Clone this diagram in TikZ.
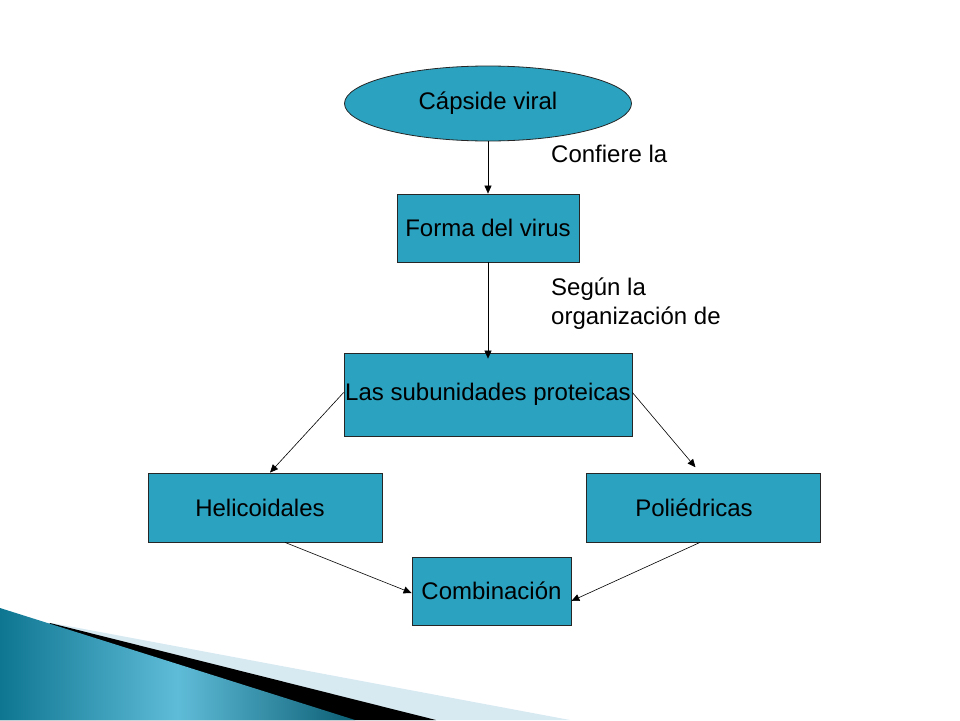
\documentclass[tikz,border=0pt]{standalone}
\usepackage{fontspec}
\setmainfont{Liberation Sans}
\usetikzlibrary{shapes.geometric,arrows.meta}
\definecolor{azzurro}{RGB}{43,162,192}
\definecolor{tealscuro}{RGB}{14,118,145}
\definecolor{tealchiaro}{RGB}{95,188,216}
\definecolor{celeste}{RGB}{215,233,241}
\tikzset{
  casella/.style={draw=black!85, fill=azzurro, line width=0.8pt, inner sep=0pt},
  freccia/.style={->, line width=0.6pt},
  testo/.style={font=\fontsize{24}{29}\selectfont}
}
\begin{document}
\begin{tikzpicture}[x=1pt, y=-1pt, >={Triangle[length=8pt,width=7pt]}]
  \useasboundingbox (0,0) rectangle (960,720);

  % decorazione in basso
  \fill[celeste] (52,623) -- (570,720) -- (0,720) -- cycle;
  \fill[black] (50,623) -- (436,720) -- (0,720) -- cycle;
  \shade[left color=tealscuro, right color=tealscuro!80!black, middle color=tealchiaro]
    (0,608) -- (355,720) -- (0,720) -- cycle;

  % nodi
  \node[casella, ellipse, minimum width=287pt, minimum height=75pt, testo] (capside) at (488,103.5) {Cápside viral};
  \node[casella, minimum width=182pt, minimum height=68pt, testo] (forma) at (488,228) {Forma del virus};
  \node[casella, minimum width=288pt, minimum height=83pt, testo] (subunidades) at (488,394.5) {Las subunidades proteicas};
  \node[casella, minimum width=234pt, minimum height=69pt, testo] (helicoidales) at (265,507.5) {Helicoidales\kern10pt};
  \node[casella, minimum width=234pt, minimum height=69pt, testo] (poliedricas) at (703,507.5) {Poliédricas\kern18pt};
  \node[casella, minimum width=159pt, minimum height=68pt, testo] (combinacion) at (491.5,591) {Combinación};

  % etichette
  \node[testo, anchor=west, inner sep=0pt] (confiere) at (551,154) {Confiere la};
  \node[testo, anchor=west, align=left, inner sep=0pt] (segun) at (551,303.5) {Según la\\organización de};

  % frecce
  \draw[freccia] (capside.south) -- (forma.north);
  \draw[freccia, shorten >=-6pt] (forma.south) -- (subunidades.north);
  \draw[freccia] ([yshift=2pt]subunidades.west) -- ([xshift=5pt]helicoidales.north);
  \draw[freccia, shorten >=7pt] ([yshift=2pt]subunidades.east) -- ([xshift=-3pt]poliedricas.north);
  \draw[freccia] ([xshift=20pt]helicoidales.south) -- ([yshift=-2pt]combinacion.west);
  \draw[freccia] ([xshift=-3pt]poliedricas.south) -- ([yshift=-10pt]combinacion.east);
\end{tikzpicture}
\end{document}
